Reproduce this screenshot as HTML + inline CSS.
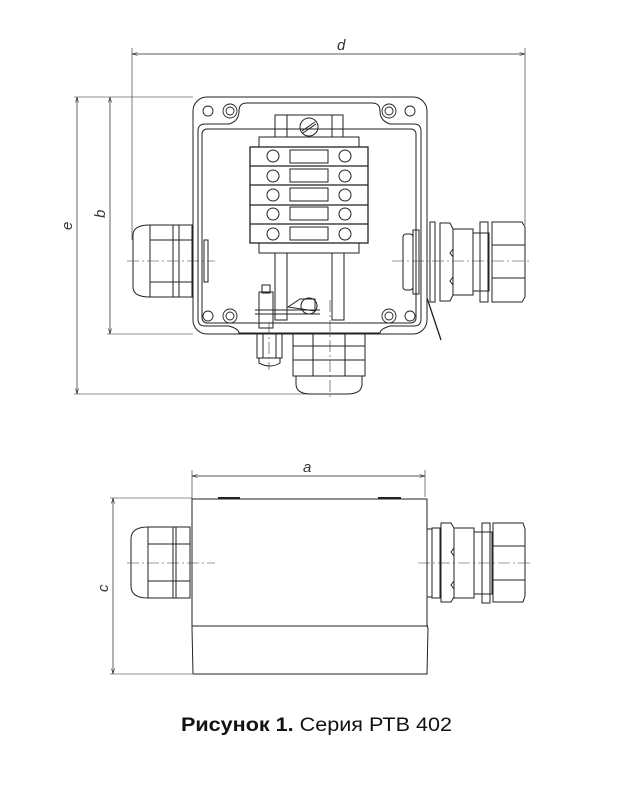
<!DOCTYPE html>
<html><head><meta charset="utf-8"><style>body{margin:0;background:#fff}svg{display:block}</style></head>
<body>
<svg width="628" height="790" viewBox="0 0 628 790" xmlns="http://www.w3.org/2000/svg" font-family="Liberation Sans, sans-serif">
<defs><marker id="ar" markerWidth="8" markerHeight="6" refX="8" refY="3" orient="auto-start-reverse"><path d="M0,0.8 L8,3 L0,5.2" fill="none" stroke="#222" stroke-width="0.8"/></marker></defs>
<g stroke="#222" fill="none" stroke-width="1">
<!-- dims top -->
<line x1="132" y1="54" x2="525" y2="54" stroke-width="0.7" marker-start="url(#ar)" marker-end="url(#ar)"/>
<line x1="132" y1="48" x2="132" y2="240" stroke-width="0.6"/>
<line x1="525" y1="48" x2="525" y2="225" stroke-width="0.6"/>
<line x1="77" y1="97" x2="77" y2="394" stroke-width="0.7" marker-start="url(#ar)" marker-end="url(#ar)"/>
<line x1="110" y1="97" x2="110" y2="334" stroke-width="0.7" marker-start="url(#ar)" marker-end="url(#ar)"/>
<line x1="74" y1="97" x2="193" y2="97" stroke-width="0.6"/>
<line x1="107" y1="334" x2="193" y2="334" stroke-width="0.6"/>
<line x1="74" y1="394" x2="330" y2="394" stroke-width="0.6"/>
<!-- box -->
<rect x="193" y="97" width="234" height="237" rx="14"/>
<path d="M247 103 q-8 0-8 8 q0 10-10 13 h-24 q-7 0-7 7 v188 q0 7 7 7 h24 q10 3 10 7 h141 q0-4 10-7 h24 q7 0 7-7 v-188 q0-7-7-7 h-24 q-10-3-10-13 q0-8-8-8z"/>
<rect x="202" y="129" width="214" height="194" rx="5"/>
<g stroke-width="0.9">
<circle cx="208" cy="111" r="5"/><circle cx="230" cy="111" r="7"/><circle cx="230" cy="111" r="4"/>
<circle cx="389" cy="111" r="7"/><circle cx="389" cy="111" r="4"/><circle cx="410" cy="111" r="5"/>
<circle cx="208" cy="316" r="5"/><circle cx="230" cy="316" r="7"/><circle cx="230" cy="316" r="4"/>
<circle cx="389" cy="316" r="7"/><circle cx="389" cy="316" r="4"/><circle cx="410" cy="316" r="5"/>
</g>
<!-- terminal -->
<rect x="275" y="115" width="68" height="22"/>
<line x1="287" y1="115" x2="287" y2="137"/><line x1="332" y1="115" x2="332" y2="137"/>
<circle cx="309" cy="127" r="9"/><line x1="302" y1="131" x2="315" y2="122"/><line x1="303" y1="133" x2="316" y2="124"/>
<rect x="259" y="137" width="100" height="10"/>
<rect x="250" y="147" width="118" height="96" stroke-width="1.3"/>
<g stroke-width="1.3"><line x1="250" y1="166" x2="368" y2="166"/><line x1="250" y1="185" x2="368" y2="185"/><line x1="250" y1="205" x2="368" y2="205"/><line x1="250" y1="224" x2="368" y2="224"/></g>
<g stroke-width="1">
<circle cx="273" cy="156" r="6"/><circle cx="345" cy="156" r="6"/><rect x="290" y="150" width="38" height="13"/>
<circle cx="273" cy="176" r="6"/><circle cx="345" cy="176" r="6"/><rect x="290" y="169" width="38" height="13"/>
<circle cx="273" cy="195" r="6"/><circle cx="345" cy="195" r="6"/><rect x="290" y="188" width="38" height="13"/>
<circle cx="273" cy="214" r="6"/><circle cx="345" cy="214" r="6"/><rect x="290" y="207" width="38" height="13"/>
<circle cx="273" cy="234" r="6"/><circle cx="345" cy="234" r="6"/><rect x="290" y="227" width="38" height="13"/>
</g>
<rect x="259" y="243" width="100" height="10"/>
<rect x="275" y="253" width="12" height="67"/><rect x="332" y="253" width="12" height="67"/>
<!-- ground -->
<rect x="259" y="292" width="14" height="36"/><rect x="262" y="285" width="8" height="8"/>
<line x1="255" y1="310" x2="320" y2="310"/><line x1="255" y1="314" x2="320" y2="314"/>
<path d="M288 307 l12-8 h15 v12 z"/><circle cx="309" cy="306" r="8"/>
<!-- left gland -->
<path d="M150 225 h42 v72 h-42 q-17 0-17-10 v-52 q0-10 17-10z"/>
<line x1="150" y1="225" x2="150" y2="297"/><line x1="173" y1="225" x2="173" y2="297"/><line x1="179" y1="225" x2="179" y2="297"/>
<line x1="150" y1="240" x2="192" y2="240"/><line x1="150" y1="282" x2="192" y2="282"/>
<rect x="204" y="240" width="4" height="42"/>
<!-- right gland -->
<rect x="403" y="234" width="10" height="56" rx="3"/><rect x="413" y="230" width="6" height="64"/>
<rect x="430" y="222" width="5" height="80"/>
<path d="M440 223 h10 l3 6 v20 l-3 4 l3 4 v20 l-3 4 l3 4 v10 l-3 6 h-10z"/>
<rect x="453" y="229" width="20" height="66"/>
<rect x="473" y="233" width="16" height="58"/>
<rect x="480" y="222" width="8" height="80"/>
<path d="M492 222 h30 l3 5 v70 l-3 5 h-30z"/>
<line x1="492" y1="245" x2="525" y2="245"/><line x1="492" y1="278" x2="525" y2="278"/>
<line x1="427" y1="298" x2="441" y2="340" stroke-width="1.3"/>
<!-- bottom glands -->
<rect x="257" y="334" width="25" height="24"/><path d="M259 358 h21 v5 q-10 6-21 0z"/>
<line x1="263" y1="334" x2="263" y2="358"/><line x1="276" y1="334" x2="276" y2="358"/>
<rect x="293" y="334" width="72" height="42"/><line x1="293" y1="346" x2="365" y2="346"/><line x1="293" y1="360" x2="365" y2="360"/>
<line x1="313" y1="334" x2="313" y2="376"/><line x1="345" y1="334" x2="345" y2="376"/>
<path d="M296 376 h66 v8 q0 10-15 10 h-36 q-15 0-15-10z"/>
</g>
<g stroke="#333" stroke-width="0.6" stroke-dasharray="12,3,2,3" fill="none">
<line x1="127" y1="261" x2="215" y2="261"/><line x1="392" y1="261" x2="532" y2="261"/>
<line x1="330" y1="300" x2="330" y2="400"/><line x1="269" y1="322" x2="269" y2="370"/>
<line x1="127" y1="563" x2="215" y2="563"/><line x1="418" y1="563" x2="532" y2="563"/>
</g>
<!-- bottom view -->
<g stroke="#222" fill="none" stroke-width="1">
<line x1="192" y1="476" x2="425" y2="476" stroke-width="0.7" marker-start="url(#ar)" marker-end="url(#ar)"/>
<line x1="192" y1="470" x2="192" y2="499" stroke-width="0.6"/><line x1="425" y1="470" x2="425" y2="497" stroke-width="0.6"/>
<line x1="113" y1="498" x2="113" y2="674" stroke-width="0.7" marker-start="url(#ar)" marker-end="url(#ar)"/>
<line x1="110" y1="498" x2="192" y2="498" stroke-width="0.6"/><line x1="110" y1="674" x2="192" y2="674" stroke-width="0.6"/>
<path d="M192 499 h235 v127 l1 2 l-1 46 h-234 l-1-46 z"/>
<line x1="192" y1="626" x2="428" y2="626"/>
<line x1="218" y1="498" x2="240" y2="498" stroke-width="2"/><line x1="378" y1="498" x2="401" y2="498" stroke-width="2"/>
<path d="M148 527 h42 v71 h-42 q-17 0-17-12 v-47 q0-12 17-12z"/>
<line x1="148" y1="527" x2="148" y2="598"/><line x1="173" y1="527" x2="173" y2="598"/><line x1="176" y1="527" x2="176" y2="598"/>
<line x1="148" y1="544" x2="190" y2="544"/><line x1="148" y1="581" x2="190" y2="581"/>
<rect x="427" y="529" width="5" height="68"/><rect x="432" y="528" width="8" height="70"/>
<path d="M441 523 h10 l3 5 v20 l-3 4 l3 4 v25 l-3 4 l3 4 v8 l-3 5 h-10z"/>
<rect x="454" y="528" width="20" height="70"/><rect x="474" y="532" width="18" height="62"/>
<rect x="482" y="523" width="8" height="80"/>
<path d="M493 523 h30 l2 6 v67 l-2 6 h-30z"/>
<line x1="493" y1="546" x2="525" y2="546"/><line x1="493" y1="580" x2="525" y2="580"/>
</g>
<g font-family="Liberation Sans, sans-serif" font-style="italic" font-size="15" fill="#333">
<text x="337" y="50">d</text>
<text x="303" y="472">a</text>
<text transform="translate(72,230) rotate(-90)">e</text>
<text transform="translate(105,218) rotate(-90)">b</text>
<text transform="translate(108,592) rotate(-90)">c</text>
</g>
<text x="181" y="731" font-size="19" textLength="271" lengthAdjust="spacingAndGlyphs" fill="#111" font-family="Liberation Sans, sans-serif"><tspan font-weight="bold">Рисунок 1.</tspan> Серия РТВ 402</text>
</svg>
</body></html>
